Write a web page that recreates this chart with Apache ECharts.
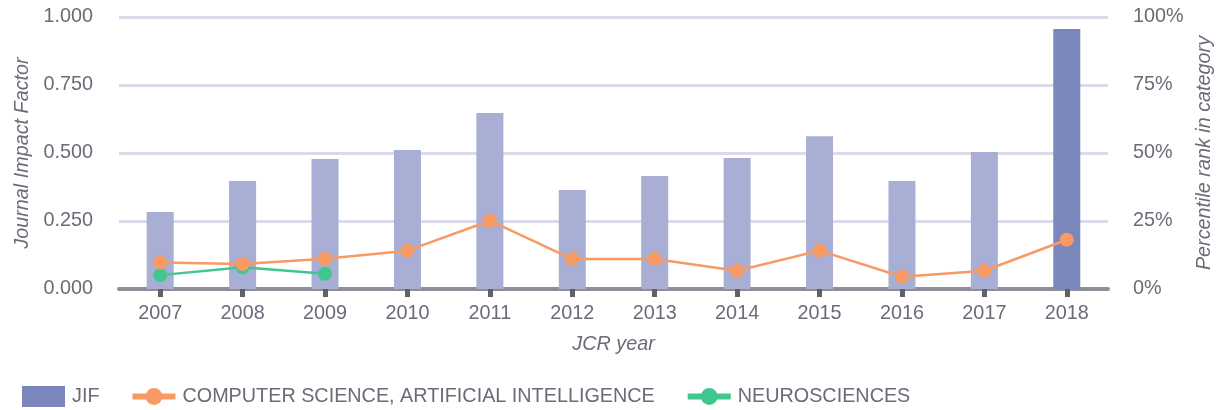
<!DOCTYPE html>
<html>
<head>
<meta charset="utf-8">
<script src="https://cdn.jsdelivr.net/npm/echarts@6/dist/echarts.min.js"></script>
<style>
  html, body { margin: 0; padding: 0; background: #fff; }
  #chart { width: 1220px; height: 410px; }
</style>
</head>
<body>
<div id="chart"></div>
<script>
const years = ['2007', '2008', '2009', '2010', '2011', '2012', '2013', '2014', '2015', '2016', '2017', '2018'];
const jif = [0.283, 0.397, 0.478, 0.511, 0.647, 0.364, 0.415, 0.482, 0.562, 0.397, 0.504, 0.956];
const csAi = [9.7, 9.2, 11.1, 14.1, 25.1, 11.0, 11.0, 6.7, 14.1, 4.5, 6.7, 18.1];
const neuro = [5.1, 8.0, 5.6, null, null, null, null, null, null, null, null, null];

const textColor = '#6b6b78';
const font = 'Arial, "Liberation Sans", sans-serif';
const fs = 19.8;

const chart = echarts.init(document.getElementById('chart'));
chart.setOption({
  animation: false,
  textStyle: { fontFamily: font },
  grid: { left: 119, right: 112, top: 17, bottom: 121, containLabel: false, outerBoundsMode: 'none' },
  legend: {
    left: 17,
    top: 381,
    itemGap: 30,
    itemWidth: 43,
    itemHeight: 21,
    textStyle: { color: textColor, fontSize: fs, fontFamily: font, padding: [0, 0, 0, 2] },
    data: [
      { name: 'JIF', icon: 'rect' },
      { name: 'COMPUTER SCIENCE, ARTIFICIAL INTELLIGENCE', lineStyle: { width: 6 } },
      { name: 'NEUROSCIENCES', lineStyle: { width: 6 } }
    ]
  },
  xAxis: {
    type: 'category',
    data: years,
    name: 'JCR year',
    nameLocation: 'middle',
    nameGap: 45,
    nameTextStyle: { color: textColor, fontSize: fs, fontStyle: 'italic' },
    axisLine: { lineStyle: { color: '#8e8e96', width: 4 } },
    axisTick: { show: true, alignWithLabel: true, length: 8, lineStyle: { color: '#626266', width: 5 } },
    axisLabel: { color: textColor, fontSize: fs, margin: 15 }
  },
  yAxis: [
    {
      type: 'value',
      min: 0,
      max: 1,
      interval: 0.25,
      name: 'Journal Impact Factor',
      nameLocation: 'middle',
      nameGap: 87,
      nameTextStyle: { color: textColor, fontSize: fs, fontStyle: 'italic' },
      axisLine: { show: false },
      axisTick: { show: false },
      axisLabel: { color: textColor, fontSize: fs, margin: 26, formatter: v => v.toFixed(3) },
      splitLine: { lineStyle: { color: '#dcdaea', width: 3 } }
    },
    {
      type: 'value',
      min: 0,
      max: 100,
      interval: 25,
      name: 'Percentile rank in category',
      nameLocation: 'middle',
      nameGap: 84,
      nameTextStyle: { color: textColor, fontSize: fs, fontStyle: 'italic' },
      axisLine: { show: false },
      axisTick: { show: false },
      axisLabel: { color: textColor, fontSize: fs, margin: 25, formatter: '{value}%' },
      splitLine: { show: false }
    }
  ],
  series: [
    {
      name: 'JIF',
      type: 'bar',
      yAxisIndex: 0,
      barWidth: 27,
      itemStyle: { color: '#7b86bb' },
      data: jif.map((v, i) => i === jif.length - 1
        ? { value: v }
        : { value: v, itemStyle: { color: '#a8aed4' } })
    },
    {
      name: 'COMPUTER SCIENCE, ARTIFICIAL INTELLIGENCE',
      type: 'line',
      yAxisIndex: 1,
      symbol: 'circle',
      symbolSize: 14,
      z: 4,
      itemStyle: { color: '#f79a64' },
      lineStyle: { color: '#f79a64', width: 2.5 },
      data: csAi
    },
    {
      name: 'NEUROSCIENCES',
      type: 'line',
      yAxisIndex: 1,
      symbol: 'circle',
      symbolSize: 14,
      z: 3,
      itemStyle: { color: '#41c690' },
      lineStyle: { color: '#41c690', width: 2.5 },
      data: neuro
    }
  ]
});
</script>
</body>
</html>
